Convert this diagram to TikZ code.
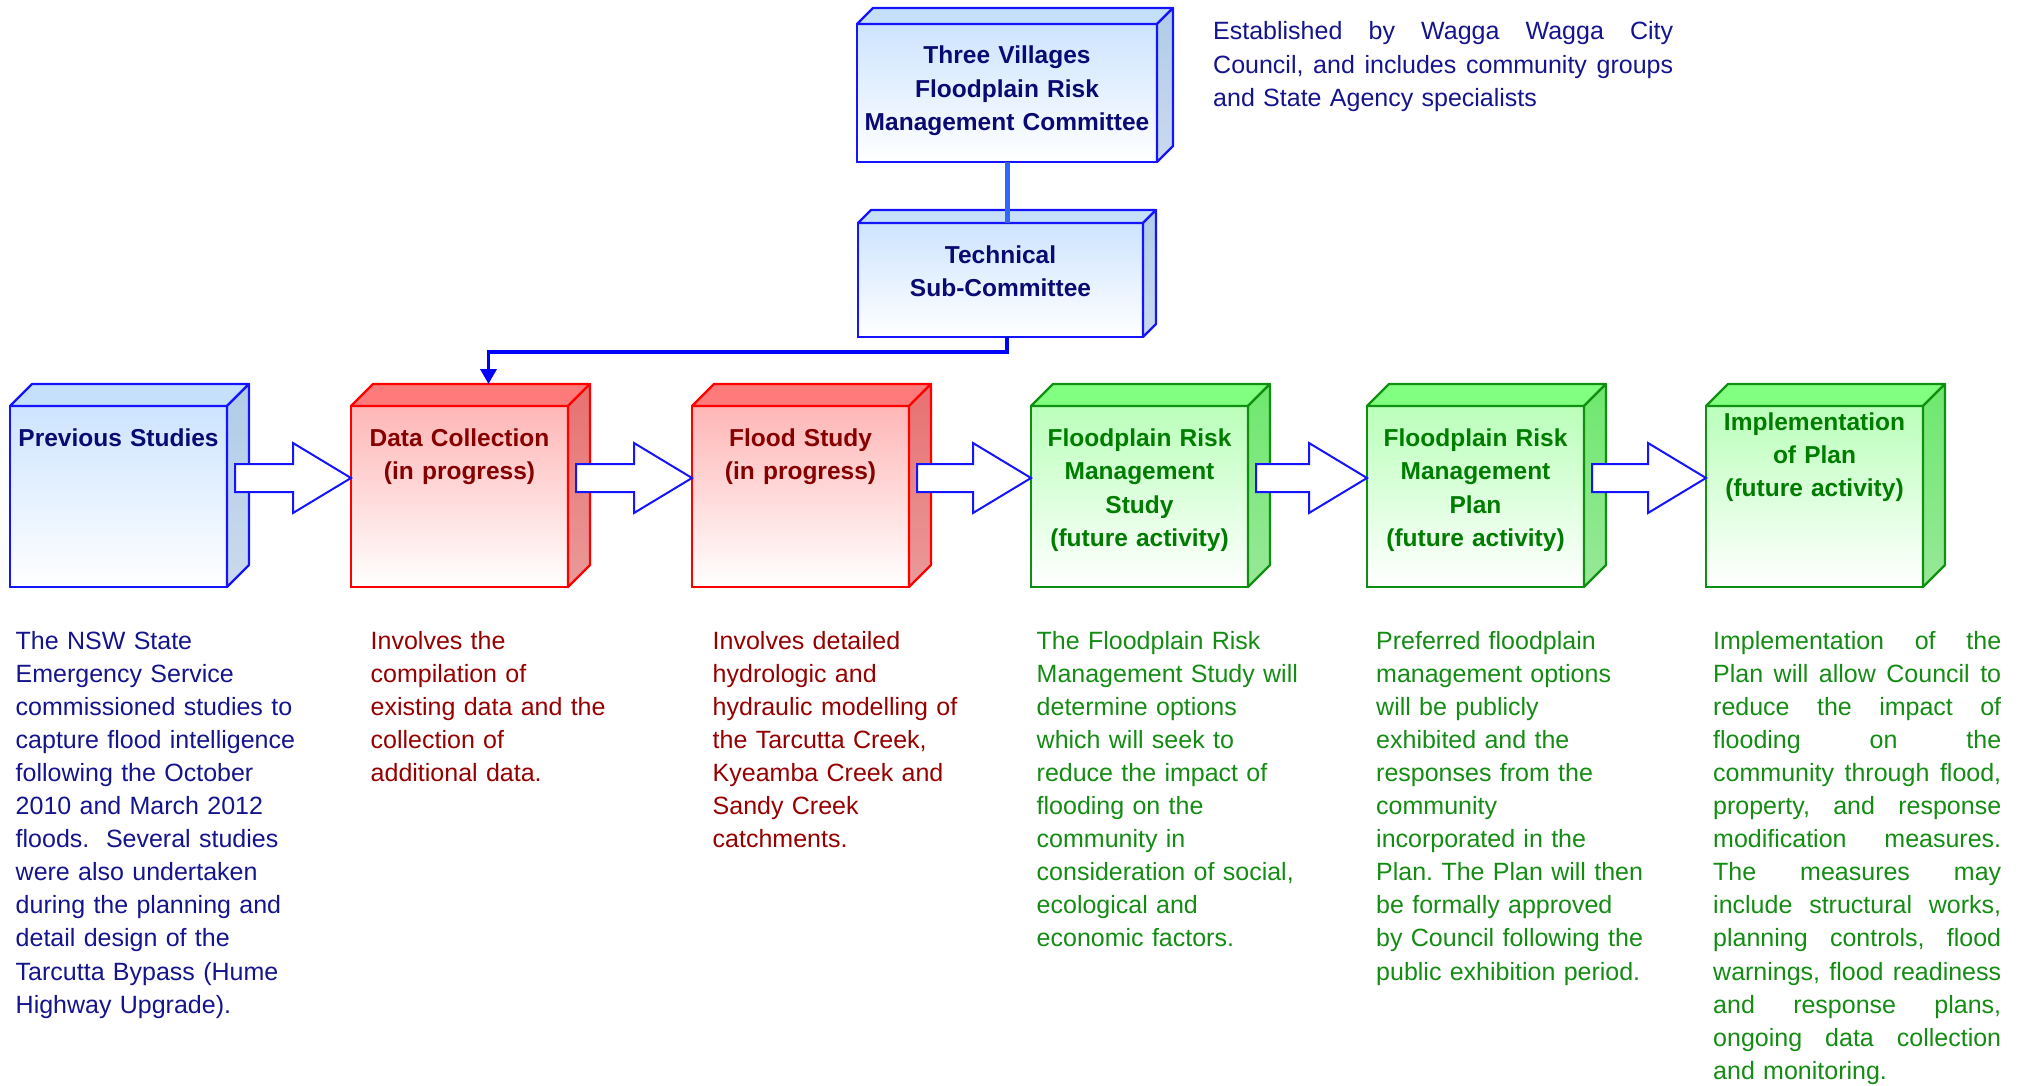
\documentclass[tikz,border=0pt]{standalone}
\usepackage{fontspec}
\setmainfont{Liberation Sans}
\usetikzlibrary{calc,arrows.meta}
\frenchspacing
\definecolor{bline}{RGB}{20,20,255}
\definecolor{bfront}{RGB}{205,228,255}
\definecolor{btop}{RGB}{196,224,251}
\definecolor{bsidet}{RGB}{176,204,232}
\definecolor{bsideb}{RGB}{202,218,238}
\definecolor{rline}{RGB}{255,0,0}
\definecolor{rfront}{RGB}{255,182,182}
\definecolor{rtop}{RGB}{255,122,122}
\definecolor{rsidet}{RGB}{232,112,112}
\definecolor{rsideb}{RGB}{234,154,154}
\definecolor{gline}{RGB}{16,144,16}
\definecolor{gfront}{RGB}{186,255,186}
\definecolor{gtop}{RGB}{128,255,128}
\definecolor{gsidet}{RGB}{110,232,110}
\definecolor{gsideb}{RGB}{152,232,152}
\definecolor{navytxt}{RGB}{10,10,115}
\definecolor{navydesc}{RGB}{20,20,140}
\definecolor{redtxt}{RGB}{135,0,0}
\definecolor{reddesc}{RGB}{150,0,0}
\definecolor{greentxt}{RGB}{0,125,0}
\definecolor{greendesc}{RGB}{20,140,20}
\definecolor{connblue}{RGB}{0,0,255}
\definecolor{connlight}{RGB}{51,102,255}
\newcommand{\cubefaces}[6]{%
  \draw[draw=#6, line width=2.2, fill=#3, line join=round]
    (#1.north west) -- ++(#2,-#2) -- ($(#1.north east)+(#2,-#2)$) -- (#1.north east) -- cycle;
  \draw[draw=#6, line width=2.2, top color=#4, bottom color=#5, line join=round]
    (#1.north east) -- ++(#2,-#2) -- ($(#1.south east)+(#2,-#2)$) -- (#1.south east) -- cycle;
}
\newcommand{\blockarrow}[2]{%
  \draw[barrow]
    ($(#1.east)+(8,-32.5)$) -- ($(#2.west)+(-58,-32.5)$) -- ($(#2.west)+(-58,-53.5)$)
    -- ($(#2.west)+(0,-18.5)$) -- ($(#2.west)+(-58,16.5)$) -- ($(#2.west)+(-58,-4.5)$)
    -- ($(#1.east)+(8,-4.5)$) -- cycle;
}
\newcommand{\jl}[2]{\noindent\hbox to #1pt{#2}\par}
\tikzset{
  fbox/.style={rectangle, inner sep=0, outer sep=0, line width=2.2, anchor=north west},
  bluebox/.style={fbox, draw=bline, top color=bfront, bottom color=white},
  redbox/.style={fbox, draw=rline, top color=rfront, bottom color=white},
  greenbox/.style={fbox, draw=gline, top color=gfront, bottom color=white},
  mainsize/.style={minimum width=217, minimum height=181},
  lbl/.style={anchor=base, align=center, text width=310, inner sep=0,
    font=\fontsize{24.5}{33.4}\selectfont\bfseries},
  desc/.style={anchor=base west, align=left, text width=325, inner sep=0,
    font=\fontsize{25}{33.1}\selectfont},
  barrow/.style={draw=bline, fill=white, line width=2, line join=miter},
}
\begin{document}
\begin{tikzpicture}[x=1pt, y=-1pt]
\useasboundingbox (0,0) rectangle (2024,1086);

% committee boxes
\node[bluebox, minimum width=300, minimum height=138] (tvc) at (857,24) {};
\cubefaces{tvc}{16}{btop}{bsidet}{bsideb}{bline}
\node[bluebox, minimum width=285, minimum height=114] (tsc) at (858,223) {};
\cubefaces{tsc}{13}{btop}{bsidet}{bsideb}{bline}
\node[lbl, text=navytxt] (tvcl) at ($(tvc.north)+(0,40)$) {Three Villages\\Floodplain Risk\\Management Committee};
\node[lbl, text=navytxt] (tscl) at ($(tsc.north)+(0,40)$) {Technical\\Sub-Committee};

% main row boxes
\node[bluebox, mainsize] (ps) at (10,406) {};
\cubefaces{ps}{22}{btop}{bsidet}{bsideb}{bline}
\node[redbox, mainsize] (dc) at (351,406) {};
\cubefaces{dc}{22}{rtop}{rsidet}{rsideb}{rline}
\node[redbox, mainsize] (fs) at (692,406) {};
\cubefaces{fs}{22}{rtop}{rsidet}{rsideb}{rline}
\node[greenbox, mainsize] (fms) at (1031,406) {};
\cubefaces{fms}{22}{gtop}{gsidet}{gsideb}{gline}
\node[greenbox, mainsize] (fmp) at (1367,406) {};
\cubefaces{fmp}{22}{gtop}{gsidet}{gsideb}{gline}
\node[greenbox, mainsize] (imp) at (1706,406) {};
\cubefaces{imp}{22}{gtop}{gsidet}{gsideb}{gline}

\node[lbl, text=navytxt] (psl) at ($(ps.north)+(0,40.5)$) {Previous Studies};
\node[lbl, text=redtxt] (dcl) at ($(dc.north)+(0,40.5)$) {Data Collection\\(in progress)};
\node[lbl, text=redtxt] (fsl) at ($(fs.north)+(0,40.5)$) {Flood Study\\(in progress)};
\node[lbl, text=greentxt] (fmsl) at ($(fms.north)+(0,40.5)$) {Floodplain Risk\\Management\\Study\\(future activity)};
\node[lbl, text=greentxt] (fmpl) at ($(fmp.north)+(0,40.5)$) {Floodplain Risk\\Management\\Plan\\(future activity)};
\node[lbl, text=greentxt] (impl) at ($(imp.north)+(0,24)$) {Implementation\\of Plan\\(future activity)};

% connectors
\draw[line width=5, draw=connlight] (tvc.south) -- (tvc.south |- tsc.north);
\coordinate (dctop) at ($(dc.north)+(29,-22)$);
\draw[line width=3.6, draw=connblue, line join=miter, -{Triangle[length=15,width=16]}]
  (tvc.south |- tsc.south) -- ++(0,15) -| (dctop);

\blockarrow{ps}{dc}
\blockarrow{dc}{fs}
\blockarrow{fs}{fms}
\blockarrow{fms}{fmp}
\blockarrow{fmp}{imp}

% texts
\node[desc, text=navydesc, text width=460] (est) at (1213,40) {%
\jl{460}{Established\hfill by\hfill Wagga\hfill Wagga\hfill City}
\jl{460}{Council,\hfill and\hfill includes\hfill community\hfill groups}
\noindent and State Agency specialists};

\node[desc, text=navydesc] (d1) at (15.5,649) {The NSW State\\Emergency Service\\commissioned studies to\\capture flood intelligence\\following the October\\2010 and March 2012\\floods.\ \ Several studies\\were also undertaken\\during the planning and\\detail design of the\\Tarcutta Bypass (Hume\\Highway Upgrade).};
\node[desc, text=reddesc] (d2) at (370.5,649) {Involves the\\compilation of\\existing data and the\\collection of\\additional data.};
\node[desc, text=reddesc] (d3) at (712.5,649) {Involves detailed\\hydrologic and\\hydraulic modelling of\\the Tarcutta Creek,\\Kyeamba Creek and\\Sandy Creek\\catchments.};
\node[desc, text=greendesc] (d4) at (1036.5,649) {The Floodplain Risk\\Management Study will\\determine options\\which will seek to\\reduce the impact of\\flooding on the\\community in\\consideration of social,\\ecological and\\economic factors.};
\node[desc, text=greendesc] (d5) at (1376,649) {Preferred floodplain\\management options\\will be publicly\\exhibited and the\\responses from the\\community\\incorporated in the\\Plan. The Plan will then\\be formally approved\\by Council following the\\public exhibition period.};
\node[desc, text=greendesc, text width=288] (d6) at (1713,649) {%
\jl{288}{Implementation\hfill of\hfill the}
\jl{288}{Plan\hfill will\hfill allow\hfill Council\hfill to}
\jl{288}{reduce\hfill the\hfill impact\hfill of}
\jl{288}{flooding\hfill on\hfill the}
\jl{288}{community\hfill through\hfill flood,}
\jl{288}{property,\hfill and\hfill response}
\jl{288}{modification\hfill measures.}
\jl{288}{The\hfill measures\hfill may}
\jl{288}{include\hfill structural\hfill works,}
\jl{288}{planning\hfill controls,\hfill flood}
\jl{288}{warnings,\hfill flood\hfill readiness}
\jl{288}{and\hfill response\hfill plans,}
\jl{288}{ongoing\hfill data\hfill collection}
\noindent and monitoring.};
\end{tikzpicture}
\end{document}
